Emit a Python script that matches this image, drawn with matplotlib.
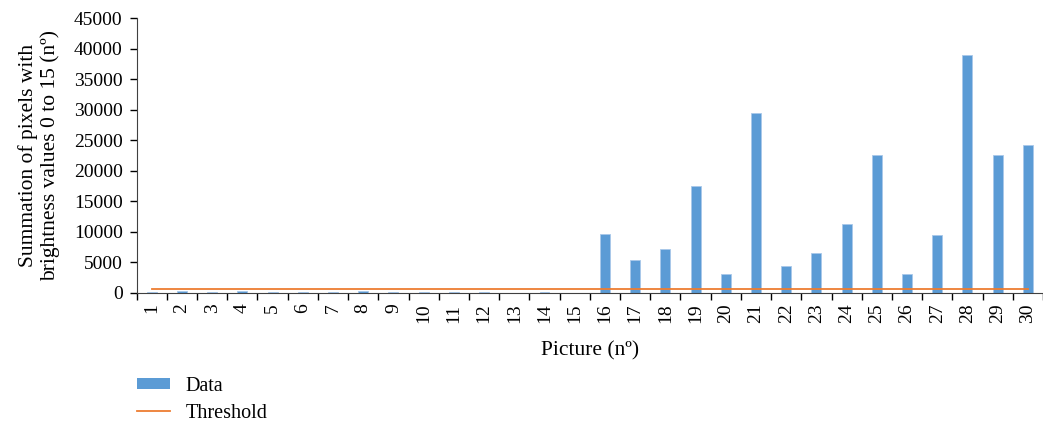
import matplotlib.pyplot as plt
import numpy as np
from matplotlib.patches import Patch
from matplotlib.lines import Line2D

plt.rcParams['font.family'] = ['Liberation Serif', 'DejaVu Serif']

# Picture numbers and pixel counts (brightness 0-15)
pictures = [str(i) for i in range(1, 31)]
pixel_sums = [150, 200, 150, 200, 150, 50, 150, 200, 100, 150,
              50, 100, 0, 50, 0, 9600, 5300, 7100, 17400, 3100,
              29400, 4400, 6400, 11300, 22600, 3000, 9500, 39000, 22500, 24200]
threshold = [500] * 30

bar_color = '#5B9BD5'
line_color = '#ED7D31'

fig = plt.figure(figsize=(10.43, 4.23), dpi=100)
ax = fig.add_axes([0.131, 0.3085, 0.869, 0.6485])

x = np.arange(len(pictures))
ax.bar(x, pixel_sums, width=0.33, color=bar_color, edgecolor='#A9C8EA', linewidth=0.6, zorder=2)
ax.plot(x, threshold, color=line_color, linewidth=1.3, zorder=3)

ax.set_xlim(-0.5, len(pictures) - 0.5)
ax.set_ylim(0, 45000)
ax.set_yticks(np.arange(0, 45001, 5000))
ax.tick_params(axis='y', labelsize=14, length=5, width=1, direction='out', pad=5)

# category boundaries carry the tick marks, labels sit at bar centres
ax.set_xticks(x)
ax.set_xticklabels(pictures, rotation=90, fontsize=14)
ax.set_xticks(np.arange(-0.5, len(pictures), 1), minor=True)
ax.tick_params(axis='x', which='major', length=0, pad=8)
ax.tick_params(axis='x', which='minor', length=5, width=1, direction='out')

for side in ['top', 'right']:
    ax.spines[side].set_visible(False)
ax.spines['left'].set_color('#404040')
ax.spines['bottom'].set_color('#404040')

ax.set_xlabel('Picture (nº)', fontsize=15.5, labelpad=13)
ax.set_ylabel('Summation of pixels with\nbrightness values 0 to 15 (nº)', fontsize=15.5,
              labelpad=10, linespacing=1.15)

handles = [Patch(facecolor=bar_color, edgecolor='none'),
           Line2D([0], [0], color=line_color, linewidth=1.3)]
fig.legend(handles, ['Data', 'Threshold'], loc='upper left',
           bbox_to_anchor=(0.114, 0.152), frameon=False, fontsize=14.5,
           handlelength=1.65, handleheight=0.5, handletextpad=0.75, labelspacing=0.4)

fig.savefig('out.png', dpi=100)
